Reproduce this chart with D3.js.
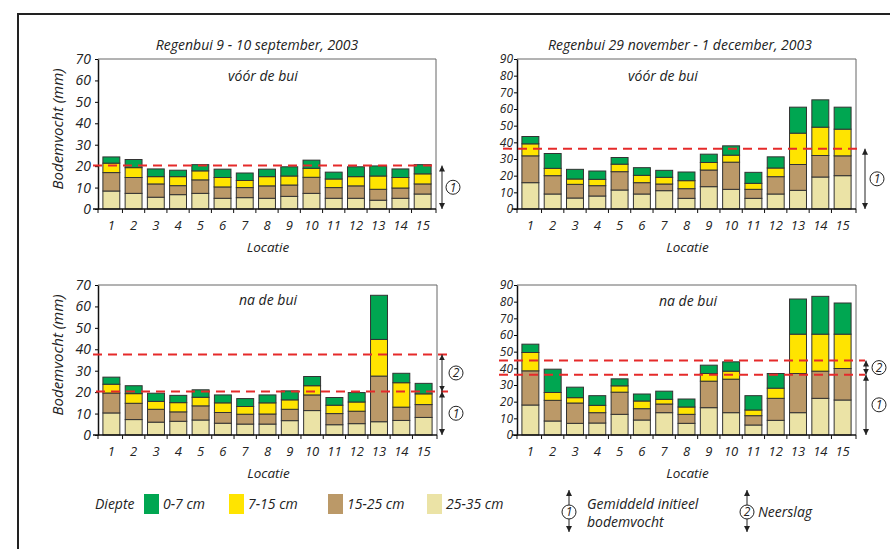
<!DOCTYPE html>
<html>
<head>
<meta charset="utf-8">
<script src="https://d3js.org/d3.v7.min.js"></script>
<style>
    body { margin: 0; background: #fff; }
    svg text { font-family: "Open Sans", sans-serif; font-style: italic; fill: #222; }
</style>
</head>
<body>
<svg id="chart"></svg>
<script>
// categories
const locaties = ["1","2","3","4","5","6","7","8","9","10","11","12","13","14","15"];
const diepten = ["0-7 cm", "7-15 cm", "15-25 cm", "25-35 cm"];
const yTicks70 = [0, 10, 20, 30, 40, 50, 60, 70];
const yTicks90 = [0, 10, 20, 30, 40, 50, 60, 70, 80, 90];

// Regenbui 9 - 10 september 2003, voor de bui (mm per laag)
const sepVoor_25_35 = [8.4, 7.3, 5.5, 6.7, 7.3, 5.0, 5.3, 5.0, 5.9, 7.3, 5.0, 5.0, 4.1, 5.0, 7.0];
const sepVoor_15_25 = [8.6, 7.4, 6.2, 4.2, 6.3, 5.3, 4.7, 5.8, 5.3, 7.5, 5.0, 5.8, 5.1, 4.8, 4.7];
const sepVoor_7_15  = [4.4, 4.6, 3.4, 4.2, 4.2, 4.4, 3.3, 4.3, 4.2, 4.2, 4.0, 4.3, 6.2, 4.9, 4.7];
const sepVoor_0_7   = [2.9, 3.8, 3.6, 3.0, 2.9, 3.9, 3.5, 3.5, 4.3, 3.8, 3.2, 4.6, 4.7, 4.0, 4.3];

// september, na de bui
const sepNa_25_35 = [10.3, 7.2, 6.0, 6.4, 7.0, 5.5, 5.1, 5.1, 6.7, 11.4, 4.8, 5.3, 6.2, 6.8, 8.2];
const sepNa_15_25 = [9.3, 7.6, 6.0, 4.4, 6.6, 5.0, 4.6, 4.7, 5.3, 7.3, 5.2, 5.8, 21.3, 6.2, 6.0];
const sepNa_7_15  = [4.1, 4.5, 3.7, 4.3, 4.0, 4.5, 3.6, 5.2, 4.4, 4.3, 3.9, 4.3, 17.1, 11.4, 5.0];
const sepNa_0_7   = [3.3, 3.7, 3.8, 3.4, 3.5, 3.7, 3.7, 3.7, 4.2, 4.3, 3.6, 4.4, 20.6, 4.4, 4.9];

// Regenbui 29 november - 1 december 2003, voor de bui
const novVoor_25_35 = [15.8, 9.0, 6.6, 7.8, 11.4, 9.0, 11.0, 6.4, 13.4, 11.8, 6.4, 9.0, 11.2, 19.2, 20.0];
const novVoor_15_25 = [16.1, 11.0, 8.2, 6.2, 11.0, 6.8, 4.0, 5.8, 10.0, 16.3, 5.4, 10.4, 15.5, 12.9, 11.9];
const novVoor_7_15  = [7.2, 4.4, 3.2, 3.8, 4.5, 4.4, 4.0, 4.8, 4.5, 4.2, 3.6, 5.2, 18.8, 17.0, 16.0];
const novVoor_0_7   = [4.4, 8.9, 5.8, 5.0, 4.0, 4.6, 4.2, 5.2, 5.0, 5.6, 6.6, 6.7, 15.6, 16.4, 13.2];

// november, na de bui
const novNa_25_35 = [18.0, 8.4, 7.0, 7.2, 12.4, 9.0, 13.4, 7.0, 16.4, 13.4, 6.0, 8.8, 13.4, 22.0, 21.0];
const novNa_15_25 = [20.5, 12.4, 12.2, 6.2, 13.3, 6.8, 5.2, 5.4, 15.9, 20.1, 5.6, 13.2, 23.5, 16.3, 18.9];
const novNa_7_15  = [11.0, 4.7, 3.2, 4.4, 3.8, 4.6, 2.8, 4.4, 4.6, 4.8, 3.4, 6.1, 23.6, 22.2, 20.6];
const novNa_0_7   = [5.0, 14.0, 6.3, 5.8, 4.2, 4.2, 4.9, 4.8, 5.0, 5.6, 8.6, 8.8, 21.1, 22.7, 18.7];

// gemiddeld initieel bodemvocht en gemiddelde na neerslag (mm)
const sepGemInitieel = 20.3;
const sepGemNa = 37.6;
const novGemInitieel = 36.2;
const novGemNa = 44.7;

const kleuren = {"0-7 cm": "#00a651", "7-15 cm": "#ffe400", "15-25 cm": "#bb9968", "25-35 cm": "#ebe3a6"};

const width = 890, height = 549;
const svg = d3.select("svg#chart").attr("width", width).attr("height", height);

// arrowhead marker
svg.append("defs").append("marker")
    .attr("id", "pijl")
    .attr("viewBox", "0 0 10 10")
    .attr("refX", 10).attr("refY", 5)
    .attr("markerWidth", 6).attr("markerHeight", 7)
    .attr("markerUnits", "userSpaceOnUse")
    .attr("orient", "auto-start-reverse")
    .append("path").attr("d", "M0,0 L10,5 L0,10 Z").attr("fill", "#222");

// outer frame (top + left)
svg.append("path")
    .attr("d", `M18,${height} V14 H${width}`)
    .attr("fill", "none").attr("stroke", "#222").attr("stroke-width", 2);

const panels = [
    {x0: 98, x1: 436, yTop: 59, yBot: 209, max: 70, ticks: yTicks70, tickPad: 4, tickFont: 14,
     title: "Regenbui 9 - 10 september, 2003", titleX: 257, sub: "vóór de bui", subX: 263, subY: 81,
     layers: [sepVoor_25_35, sepVoor_15_25, sepVoor_7_15, sepVoor_0_7],
     lines: [{v: sepGemInitieel, xa: 93, xb: 436}],
     arrows: [{from: sepGemInitieel, to: 0, n: "1"}], ax: 442, cx: 453, ylabel: true},
    {x0: 517, x1: 856, yTop: 59, yBot: 209, max: 90, ticks: yTicks90, tickPad: 1, tickFont: 12,
     title: "Regenbui 29 november - 1 december, 2003", titleX: 680, sub: "vóór de bui", subX: 663, subY: 81,
     layers: [novVoor_25_35, novVoor_15_25, novVoor_7_15, novVoor_0_7],
     lines: [{v: novGemInitieel, xa: 503, xb: 863}],
     arrows: [{from: novGemInitieel, to: 0, n: "1"}], ax: 865, cx: 877, ylabel: false},
    {x0: 98, x1: 437, yTop: 285, yBot: 435, max: 70, ticks: yTicks70, tickPad: 4, tickFont: 14,
     sub: "na de bui", subX: 268, subY: 305,
     layers: [sepNa_25_35, sepNa_15_25, sepNa_7_15, sepNa_0_7],
     lines: [{v: sepGemNa, xa: 93, xb: 448}, {v: sepGemInitieel, xa: 96, xb: 448}],
     arrows: [{from: sepGemNa, to: sepGemInitieel, n: "2"}, {from: sepGemInitieel, to: 0, n: "1"}], ax: 442, cx: 456, ylabel: true},
    {x0: 517, x1: 856, yTop: 285, yBot: 435, max: 90, ticks: yTicks90, tickPad: 1, tickFont: 12,
     sub: "na de bui", subX: 688, subY: 306,
     layers: [novNa_25_35, novNa_15_25, novNa_7_15, novNa_0_7],
     lines: [{v: novGemNa, xa: 499, xb: 865}, {v: novGemInitieel, xa: 499, xb: 865}],
     arrows: [{from: novGemNa, to: novGemInitieel, n: "2"}, {from: novGemInitieel, to: 0, n: "1"}], ax: 866, cx: 879, ylabel: false}
];

const keys = ["25-35 cm", "15-25 cm", "7-15 cm", "0-7 cm"];

function omcirkeld(g, cx, cy, n) {
    g.append("circle").attr("cx", cx).attr("cy", cy).attr("r", 7)
        .attr("fill", "#fff").attr("stroke", "#222").attr("stroke-width", 1);
    g.append("text").attr("x", cx).attr("y", cy).attr("dy", "0.36em")
        .attr("text-anchor", "middle").style("font-size", "12px").text(n);
}

function pijl(g, x, ya, yb) {
    g.append("line").attr("x1", x).attr("x2", x).attr("y1", ya).attr("y2", yb)
        .attr("stroke", "#222").attr("stroke-width", 1)
        .attr("marker-start", "url(#pijl)").attr("marker-end", "url(#pijl)");
}

panels.forEach(p => {
    const g = svg.append("g");
    const x = d3.scaleBand().domain(locaties).range([p.x0, p.x1]).paddingInner(0.24).paddingOuter(0.22);
    const y = d3.scaleLinear().domain([0, p.max]).range([p.yBot, p.yTop]);

    // frame top + right
    g.append("path")
        .attr("d", `M${p.x0},${p.yTop} H${p.x1} V${p.yBot}`)
        .attr("fill", "none").attr("stroke", "#666").attr("stroke-width", 1);

    const rows = locaties.map((l, i) => {
        const r = {loc: l};
        keys.forEach((k, j) => r[k] = p.layers[j][i]);
        return r;
    });
    const series = d3.stack().keys(keys)(rows);

    g.selectAll("g.laag").data(series).join("g")
        .attr("class", "laag")
        .attr("fill", s => kleuren[s.key])
        .selectAll("rect").data(s => s).join("rect")
        .attr("x", d => x(d.data.loc))
        .attr("y", d => y(d[1]))
        .attr("width", x.bandwidth())
        .attr("height", d => y(d[0]) - y(d[1]))
        .attr("stroke", "#333").attr("stroke-width", 1);

    // y axis
    const yAxis = g.append("g").attr("transform", `translate(${p.x0},0)`)
        .call(d3.axisLeft(y).tickValues(p.ticks).tickSize(3).tickSizeOuter(0).tickPadding(p.tickPad));
    yAxis.select(".domain").attr("stroke", "#111").attr("stroke-width", 1.5);
    yAxis.selectAll("text").style("font-size", p.tickFont + "px").attr("fill", "#222");

    // x axis labels
    const xAxis = g.append("g").attr("transform", `translate(0,${p.yBot})`)
        .call(d3.axisBottom(x).tickSize(0).tickPadding(12));
    xAxis.select(".domain").remove();
    xAxis.selectAll("text").style("font-size", "13px").attr("fill", "#222");

    // x axis line with ticks between bars
    g.append("line").attr("x1", p.x0 - 5).attr("x2", p.x1)
        .attr("y1", p.yBot).attr("y2", p.yBot)
        .attr("stroke", "#111").attr("stroke-width", 1.3);
    const grenzen = [p.x0].concat(locaties.slice(0, -1).map(l => x(l) + x.bandwidth() / 2 + x.step() / 2), [p.x1]);
    g.selectAll("line.grens").data(grenzen).join("line")
        .attr("class", "grens")
        .attr("x1", d => d).attr("x2", d => d)
        .attr("y1", p.yBot).attr("y2", p.yBot + 4)
        .attr("stroke", "#111").attr("stroke-width", 1);

    g.append("text").attr("x", (p.x0 + p.x1) / 2 + 1).attr("y", p.yBot + 43)
        .attr("text-anchor", "middle").style("font-size", "13.5px").text("Locatie");

    // red dashed reference lines
    p.lines.forEach(l => {
        g.append("line").attr("x1", l.xa).attr("x2", l.xb)
            .attr("y1", y(l.v)).attr("y2", y(l.v))
            .attr("stroke", "#e52a2a").attr("stroke-width", 2)
            .attr("stroke-dasharray", "9,6");
    });

    // arrows with circled numbers
    p.arrows.forEach(a => {
        pijl(g, p.ax, y(a.from), y(a.to));
        omcirkeld(g, p.cx, (y(a.from) + y(a.to)) / 2, a.n);
    });

    if (p.title) {
        g.append("text").attr("x", p.titleX).attr("y", 50)
            .attr("text-anchor", "middle").style("font-size", "14px").text(p.title);
    }
    g.append("text").attr("x", p.subX).attr("y", p.subY)
        .attr("text-anchor", "middle").style("font-size", "14px").text(p.sub);

    if (p.ylabel) {
        g.append("text")
            .attr("transform", `translate(63,${(p.yTop + p.yBot) / 2 - 5}) rotate(-90)`)
            .attr("text-anchor", "middle").style("font-size", "15px").text("Bodemvocht (mm)");
    }
});

// legend: depth colours
const legend = svg.append("g");
legend.append("text").attr("x", 95).attr("y", 509).style("font-size", "14px").text("Diepte");
const legX = [144, 229, 328, 427];
diepten.forEach((d, i) => {
    legend.append("rect").attr("x", legX[i]).attr("y", 494).attr("width", 15).attr("height", 20)
        .attr("fill", kleuren[d]);
    legend.append("text").attr("x", legX[i] + 19).attr("y", 509).style("font-size", "14px").text(d);
});

// legend: arrows
pijl(legend, 569, 490, 532);
omcirkeld(legend, 569, 512, "1");
legend.append("text").attr("x", 587).attr("y", 509).style("font-size", "14px").text("Gemiddeld initieel");
legend.append("text").attr("x", 587).attr("y", 527).style("font-size", "14px").text("bodemvocht");
pijl(legend, 747, 490, 532);
omcirkeld(legend, 747, 512, "2");
legend.append("text").attr("x", 758).attr("y", 517).style("font-size", "14px").text("Neerslag");
</script>
</body>
</html>
